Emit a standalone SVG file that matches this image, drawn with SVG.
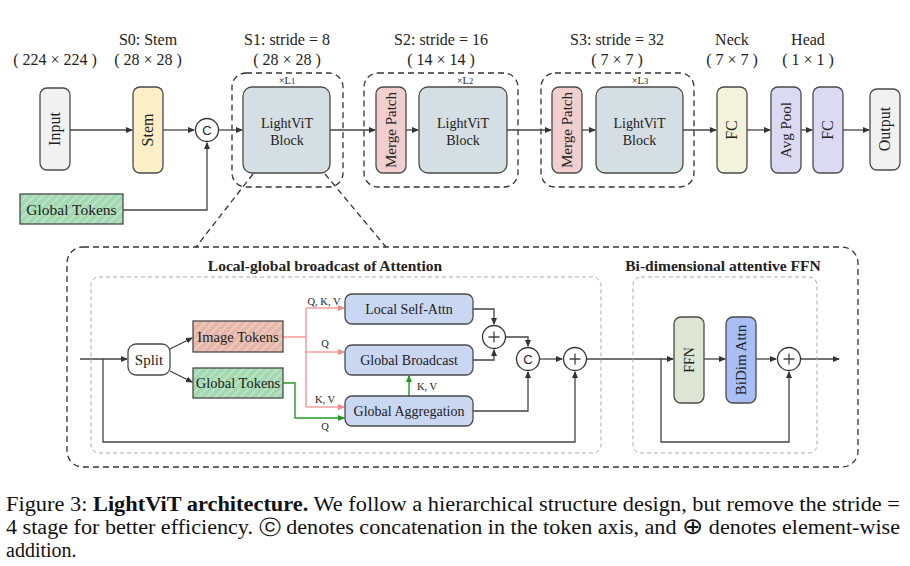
<svg xmlns="http://www.w3.org/2000/svg" width="910" height="566" viewBox="0 0 910 566">
<style>
.t{font-family:"Liberation Serif","DejaVu Serif",serif;fill:#222;text-anchor:middle}
.b{font-weight:bold}
.box{stroke:#4a4a4a;stroke-width:1.3}
.ln{fill:none;stroke:#444;stroke-width:1.3}
.pk{fill:none;stroke:#f5a0a0;stroke-width:1.6}
.gr{fill:none;stroke:#1e9a1e;stroke-width:1.4}
.dash{fill:none;stroke:#333;stroke-width:1.3;stroke-dasharray:6 4}
.gdash{fill:none;stroke:#aaa;stroke-width:1;stroke-dasharray:4 3}
.circ{fill:#fff;stroke:#333;stroke-width:1.3}
</style>
<defs>
<marker id="a" markerWidth="7" markerHeight="6" refX="6" refY="3" orient="auto" markerUnits="userSpaceOnUse"><path d="M0,0 L7,3 L0,6 Z" fill="#333"/></marker>
<marker id="ap" markerWidth="7" markerHeight="6" refX="6" refY="3" orient="auto" markerUnits="userSpaceOnUse"><path d="M0,0 L7,3 L0,6 Z" fill="#f08a8a"/></marker>
<marker id="ag" markerWidth="7" markerHeight="6" refX="6" refY="3" orient="auto" markerUnits="userSpaceOnUse"><path d="M0,0 L7,3 L0,6 Z" fill="#1e9a1e"/></marker>
<pattern id="hg" width="6" height="6" patternUnits="userSpaceOnUse" patternTransform="rotate(45)"><rect width="6" height="6" fill="#a3d8b1"/><line x1="1" y1="0" x2="1" y2="6" stroke="#c4e9cf" stroke-width="1.4"/></pattern>
<pattern id="hr" width="6" height="6" patternUnits="userSpaceOnUse" patternTransform="rotate(45)"><rect width="6" height="6" fill="#e6b6a9"/><line x1="1" y1="0" x2="1" y2="6" stroke="#f1d0c7" stroke-width="1.4"/></pattern>
</defs>

<!-- top labels -->
<g id="labels-top">
<text class="t" x="55" y="65" font-size="16">( 224 × 224 )</text>
<text class="t" x="148" y="45" font-size="16">S0: Stem</text>
<text class="t" x="148" y="65" font-size="16">( 28 × 28 )</text>
<text class="t" x="287" y="45" font-size="16">S1: stride = 8</text>
<text class="t" x="287" y="65" font-size="16">( 28 × 28 )</text>
<text class="t" x="441" y="45" font-size="16">S2: stride = 16</text>
<text class="t" x="441" y="65" font-size="16">( 14 × 14 )</text>
<text class="t" x="617" y="45" font-size="16">S3: stride = 32</text>
<text class="t" x="617" y="65" font-size="16">( 7 × 7 )</text>
<text class="t" x="732" y="45" font-size="16">Neck</text>
<text class="t" x="732" y="65" font-size="16">( 7 × 7 )</text>
<text class="t" x="808" y="45" font-size="16">Head</text>
<text class="t" x="808" y="65" font-size="16">( 1 × 1 )</text>
</g>

<!-- stage containers -->
<g id="stage-s1"><rect class="dash" x="232" y="73" width="111" height="114" rx="14"/><text class="t" x="287" y="84" font-size="10.5">×L<tspan font-size="8.5">1</tspan></text></g>
<g id="stage-s2"><rect class="dash" x="364" y="73" width="154" height="114" rx="14"/><text class="t" x="465" y="84" font-size="10.5">×L<tspan font-size="8.5">2</tspan></text></g>
<g id="stage-s3"><rect class="dash" x="541" y="73" width="153" height="114" rx="14"/><text class="t" x="640" y="84" font-size="10.5">×L<tspan font-size="8.5">3</tspan></text></g>

<!-- connectors -->
<g id="connectors">
<path class="ln" d="M70,130 H132" marker-end="url(#a)"/>
<path class="ln" d="M163,130 H194" marker-end="url(#a)"/>
<path class="ln" d="M123,210 H207 V143" marker-end="url(#a)"/>
<path class="ln" d="M219,130 H242" marker-end="url(#a)"/>
<path class="ln" d="M330,130 H375" marker-end="url(#a)"/>
<path class="ln" d="M406,130 H418" marker-end="url(#a)"/>
<path class="ln" d="M507,130 H551" marker-end="url(#a)"/>
<path class="ln" d="M582,130 H595" marker-end="url(#a)"/>
<path class="ln" d="M683,130 H716" marker-end="url(#a)"/>
<path class="ln" d="M747,130 H770" marker-end="url(#a)"/>
<path class="ln" d="M801,130 H812" marker-end="url(#a)"/>
<path class="ln" d="M843,130 H869" marker-end="url(#a)"/>
<path class="dash" d="M253,174 L196,247"/>
<path class="dash" d="M325,174 L386,247"/>
<!-- inner -->
<path class="ln" d="M80,359 H127" marker-end="url(#a)"/>
<path class="ln" d="M103,359 V442 H575 V372" marker-end="url(#a)"/>
<path class="ln" d="M170,349 L192,338" marker-end="url(#a)"/>
<path class="ln" d="M170,371 L192,382" marker-end="url(#a)"/>
<path class="pk" d="M283,337 H306"/>
<path class="pk" d="M306,308 V407"/>
<path class="pk" d="M306,308 H344" marker-end="url(#ap)"/>
<path class="pk" d="M306,352 H344" marker-end="url(#ap)"/>
<path class="pk" d="M306,407 H344" marker-end="url(#ap)"/>
<path class="gr" d="M283,383 H295 V418 H344" marker-end="url(#ag)"/>
<path class="gr" d="M409,396 V376" marker-end="url(#ag)"/>
<path class="ln" d="M473,309 H494 V324" marker-end="url(#a)"/>
<path class="ln" d="M473,360 H494 V350" marker-end="url(#a)"/>
<path class="ln" d="M506,337 H528 V346" marker-end="url(#a)"/>
<path class="ln" d="M473,411 H528 V372" marker-end="url(#a)"/>
<path class="ln" d="M540,359 H562" marker-end="url(#a)"/>
<path class="ln" d="M587,359 H673" marker-end="url(#a)"/>
<path class="ln" d="M661,359 V442 H789 V372" marker-end="url(#a)"/>
<path class="ln" d="M704,359 H725" marker-end="url(#a)"/>
<path class="ln" d="M756,359 H776" marker-end="url(#a)"/>
<path class="ln" d="M801,359 H839" marker-end="url(#a)"/>
</g>

<!-- top nodes -->
<g id="node-input"><rect class="box" x="40" y="88" width="30" height="82" rx="7" fill="#f1f1f1"/><text class="t" font-size="16" transform="translate(60,129) rotate(-90)">Input</text></g>
<g id="node-stem"><rect class="box" x="133" y="87" width="30" height="86" rx="7" fill="#fcefc6"/><text class="t" font-size="16" transform="translate(153,130) rotate(-90)">Stem</text></g>
<g id="node-concat-top"><circle class="circ" cx="207" cy="130" r="11.5"/><text x="207" y="135" font-family="Liberation Sans,Arial,sans-serif" font-size="13" text-anchor="middle" fill="#222">C</text></g>
<g id="node-global-tokens-top"><rect class="box" x="20" y="194" width="103" height="30" fill="url(#hg)"/><text class="t" x="71.5" y="215" font-size="15.5">Global Tokens</text></g>
<g id="node-block1"><rect class="box" x="243" y="87" width="87" height="86" rx="9" fill="#d4dee3"/><text class="t" x="287" y="128" font-size="14">LightViT</text><text class="t" x="287" y="145" font-size="14">Block</text></g>
<g id="node-merge2"><rect class="box" x="376" y="87" width="30" height="86" rx="7" fill="#f1cfcf"/><text class="t" font-size="15" transform="translate(396,130) rotate(-90)">Merge Patch</text></g>
<g id="node-block2"><rect class="box" x="419" y="87" width="88" height="86" rx="9" fill="#d4dee3"/><text class="t" x="463" y="128" font-size="14">LightViT</text><text class="t" x="463" y="145" font-size="14">Block</text></g>
<g id="node-merge3"><rect class="box" x="552" y="87" width="30" height="86" rx="7" fill="#f1cfcf"/><text class="t" font-size="15" transform="translate(572,130) rotate(-90)">Merge Patch</text></g>
<g id="node-block3"><rect class="box" x="596" y="87" width="87" height="86" rx="9" fill="#d4dee3"/><text class="t" x="639.5" y="128" font-size="14">LightViT</text><text class="t" x="639.5" y="145" font-size="14">Block</text></g>
<g id="node-neck-fc"><rect class="box" x="717" y="87" width="30" height="86" rx="7" fill="#f2f3da"/><text class="t" font-size="16" transform="translate(737,130) rotate(-90)">FC</text></g>
<g id="node-avgpool"><rect class="box" x="771" y="87" width="30" height="86" rx="7" fill="#dcdaf3"/><text class="t" font-size="15" transform="translate(791,130) rotate(-90)">Avg Pool</text></g>
<g id="node-head-fc"><rect class="box" x="813" y="87" width="30" height="86" rx="7" fill="#dcdaf3"/><text class="t" font-size="16" transform="translate(833,130) rotate(-90)">FC</text></g>
<g id="node-output"><rect class="box" x="870" y="89" width="30" height="81" rx="7" fill="#f1f1f1"/><text class="t" font-size="16" transform="translate(890,129) rotate(-90)">Output</text></g>

<!-- detail panel -->
<g id="panel-detail">
<rect class="dash" x="67" y="247" width="791" height="220" rx="16"/>
<rect class="gdash" x="91" y="277" width="510" height="176" rx="8"/>
<rect class="gdash" x="633" y="277" width="184" height="176" rx="8"/>
<text class="t b" x="325" y="271" font-size="15.5">Local-global broadcast of Attention</text>
<text class="t b" x="723" y="271" font-size="15.5">Bi-dimensional attentive FFN</text>
</g>

<g id="node-split"><rect class="box" x="128" y="344" width="42" height="31" rx="8" fill="#fff"/><text class="t" x="149" y="365" font-size="15">Split</text></g>
<g id="node-image-tokens"><rect class="box" x="193" y="321" width="90" height="31" fill="url(#hr)"/><text class="t" x="238" y="342" font-size="14.5">Image Tokens</text></g>
<g id="node-global-tokens"><rect class="box" x="193" y="368" width="90" height="30" fill="url(#hg)"/><text class="t" x="238" y="388" font-size="14.5">Global Tokens</text></g>
<g id="node-local-self-attn"><rect class="box" x="345" y="294" width="128" height="30" rx="7" fill="#c9d7f3"/><text class="t" x="409" y="314" font-size="14">Local Self-Attn</text></g>
<g id="node-global-broadcast"><rect class="box" x="345" y="345" width="128" height="30" rx="7" fill="#c9d7f3"/><text class="t" x="409" y="365" font-size="14">Global Broadcast</text></g>
<g id="node-global-aggregation"><rect class="box" x="345" y="396" width="128" height="30" rx="7" fill="#c9d7f3"/><text class="t" x="409" y="416" font-size="14">Global Aggregation</text></g>
<g id="edge-labels">
<text class="t" x="324" y="305" font-size="10.5">Q, K, V</text>
<text class="t" x="325" y="347" font-size="10.5">Q</text>
<text class="t" x="325" y="403" font-size="10.5">K, V</text>
<text class="t" x="325" y="430" font-size="10.5">Q</text>
<text class="t" x="427" y="390" font-size="10.5">K, V</text>
</g>
<g id="node-add1"><circle class="circ" cx="494" cy="337" r="11.5"/><path class="ln" d="M488.5,337 H499.5 M494,331.5 V342.5"/></g>
<g id="node-concat"><circle class="circ" cx="528" cy="359" r="11.5"/><text x="528" y="364" font-family="Liberation Sans,Arial,sans-serif" font-size="13" text-anchor="middle" fill="#222">C</text></g>
<g id="node-add2"><circle class="circ" cx="575" cy="359" r="11.5"/><path class="ln" d="M569.5,359 H580.5 M575,353.5 V364.5"/></g>
<g id="node-ffn"><rect class="box" x="674" y="317" width="30" height="86" rx="7" fill="#dce6d2"/><text class="t" font-size="14" transform="translate(694,360) rotate(-90)">FFN</text></g>
<g id="node-bidim"><rect class="box" x="726" y="317" width="30" height="86" rx="7" fill="#a8bef4"/><text class="t" font-size="15" transform="translate(746,360) rotate(-90)">BiDim Attn</text></g>
<g id="node-add3"><circle class="circ" cx="789" cy="359" r="11.5"/><path class="ln" d="M783.5,359 H794.5 M789,353.5 V364.5"/></g>

<!-- caption -->
<g id="caption" font-family="Liberation Serif,DejaVu Serif,serif" font-size="20" fill="#111">
<text x="6" y="511" textLength="894" lengthAdjust="spacingAndGlyphs">Figure 3: <tspan font-weight="bold">LightViT architecture.</tspan> We follow a hierarchical structure design, but remove the stride =</text>
<text x="6" y="534" textLength="894" lengthAdjust="spacingAndGlyphs">4 stage for better efficiency. ⓒ denotes concatenation in the token axis, and <tspan font-family="DejaVu Sans,sans-serif" font-size="23">⊕</tspan> denotes element-wise</text>
<text x="6" y="557">addition.</text>
</g>
</svg>
